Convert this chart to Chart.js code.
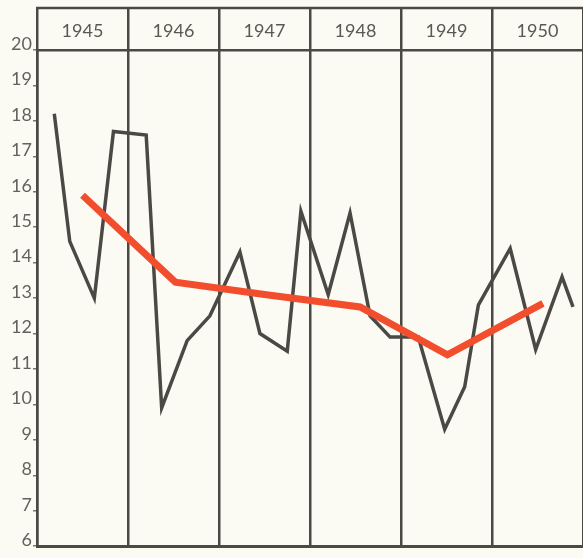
<!DOCTYPE html>
<html>
<head>
<meta charset="utf-8">
<script src="https://cdn.jsdelivr.net/npm/chart.js@4"></script>
<style>
  body { margin: 0; background: #fcfbf3; }
  canvas { display: block; }
</style>
</head>
<body>
<canvas id="chart" width="583" height="558"></canvas>
<script>
// header years
const years = ["1945", "1946", "1947", "1948", "1949", "1950"];

// quarterly series (dark line), x in years
const quarterX = [
  1945.19, 1945.36, 1945.63, 1945.84,
  1946.20, 1946.37, 1946.65, 1946.90,
  1947.23, 1947.45, 1947.75, 1947.90,
  1948.20, 1948.44, 1948.66, 1948.88,
  1949.19, 1949.48, 1949.70, 1949.85,
  1950.20, 1950.48, 1950.77, 1950.89
];
const quarterValues = [
  18.2, 14.6, 13.0, 17.7,
  17.6, 9.9, 11.8, 12.5,
  14.3, 12.0, 11.5, 15.45,
  13.1, 15.4, 12.5, 11.9,
  11.9, 9.3, 10.5, 12.8,
  14.4, 11.55, 13.6, 12.75
];

// yearly average (red line), roughly mid-year
const annualX = [1945.5, 1946.52, 1947.5, 1948.55, 1949.51, 1950.56];
const annualValues = [15.9, 13.45, 13.1, 12.75, 11.4, 12.85];

const yTicks = [6, 7, 8, 9, 10, 11, 12, 13, 14, 15, 16, 17, 18, 19, 20];

const ink = "#4b4944";
const textColor = "#5a5853";

const headerTop = {
  id: "headerTop",
  afterDraw(chart) {
    const s = chart.scales.xTop;
    const ctx = chart.ctx;
    ctx.save();
    ctx.strokeStyle = ink;
    ctx.lineWidth = 2.5;
    ctx.beginPath();
    ctx.moveTo(chart.chartArea.left - 1, s.top);
    ctx.lineTo(chart.chartArea.right, s.top);
    ctx.stroke();
    ctx.restore();
  }
};

new Chart(document.getElementById("chart"), {
  type: "line",
  data: {
    datasets: [
      {
        label: "Annual",
        data: annualX.map((x, i) => ({ x: x, y: annualValues[i] })),
        borderColor: "#f24e2e",
        borderWidth: 7,
        pointRadius: 0,
        tension: 0,
        xAxisID: "x",
        yAxisID: "y"
      },
      {
        label: "Quarterly",
        data: quarterX.map((x, i) => ({ x: x, y: quarterValues[i] })),
        borderColor: ink,
        borderWidth: 3.5,
        pointRadius: 0,
        tension: 0,
        xAxisID: "x",
        yAxisID: "y"
      }
    ]
  },
  options: {
    responsive: false,
    animation: false,
    layout: { padding: { top: 8, bottom: 5, left: 0, right: 0 } },
    plugins: {
      legend: { display: false },
      tooltip: { enabled: false }
    },
    scales: {
      x: {
        type: "linear",
        position: "bottom",
        min: 1945,
        max: 1951,
        ticks: { display: false, stepSize: 1 },
        grid: { color: ink, lineWidth: 2.5, drawTicks: false },
        border: { display: true, color: ink, width: 3 },
        afterFit: s => { s.height = 0; }
      },
      xTop: {
        type: "category",
        position: "top",
        labels: years,
        offset: true,
        grid: {
          offset: true,
          drawOnChartArea: false,
          drawTicks: true,
          tickLength: 42,
          color: ink,
          lineWidth: 2.5
        },
        border: { display: true, color: ink, width: 2.5 },
        ticks: {
          padding: -34,
          color: textColor,
          font: { family: "Lato", size: 18 },
          maxRotation: 0
        },
        afterFit: s => { s.height = 42; }
      },
      y: {
        type: "linear",
        min: 6,
        max: 20,
        afterBuildTicks: s => { s.ticks = yTicks.map(v => ({ value: v })); },
        ticks: {
          color: "#64625c",
          padding: 1,
          labelOffset: -6,
          font: { family: "Lato", size: 18 }
        },
        grid: {
          drawOnChartArea: false,
          drawTicks: true,
          tickLength: 4,
          color: "#77756e",
          lineWidth: 1.5
        },
        border: { display: true, color: ink, width: 2.5 },
        afterFit: s => { s.width = 37; }
      }
    }
  },
  plugins: [headerTop]
});
</script>
</body>
</html>
